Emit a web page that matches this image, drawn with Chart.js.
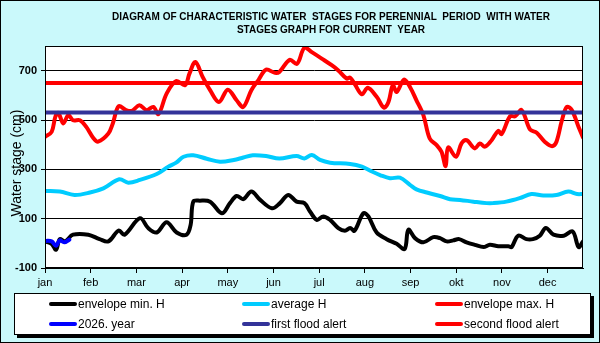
<!DOCTYPE html>
<html><head><meta charset="utf-8">
<script src="https://cdn.jsdelivr.net/npm/chart.js@4/dist/chart.umd.min.js"></script>
<style>
html,body{margin:0;padding:0;background:#caf9fb;}
#wrap{position:relative;width:600px;height:343px;}
canvas{display:block;}
</style></head><body>
<div id="wrap"><canvas id="c" width="600" height="343"></canvas></div>
<script>
const titleLines = ['DIAGRAM OF CHARACTERISTIC WATER  STAGES FOR PERENNIAL  PERIOD  WITH WATER', 'STAGES GRAPH FOR CURRENT  YEAR'];
const yAxisTitle = 'Water stage (cm)';
const monthLabels = ['jan','feb','mar','apr','may','jun','jul','aug','sep','okt','nov','dec'];
const monthTickDays = [0,31,62,93,124,155,186,217,248,279,310,341];
const yTickValues = [-100,100,300,500,700];

const minDays = [0,4.5,7.5,10,13.6,19,29.4,37,43,50,54,64.4,70,75.8,82.5,89.3,96,98.8,100.6,105,112,120,125.5,130,134.6,140,146,154,159.4,165,170.7,176,179.8,184.4,188.8,193.4,199,203.5,207,210,216,219.4,225,231.8,238.6,244,246.5,251,256.7,263.4,268,272.5,277,281,286,291.6,297.5,301.8,307.5,314.3,316.6,321,326.6,331,335.7,339.8,345,352,358,362,365];
const minValues = [8,-2,-26,17,8,35,35,17,8,52,35,102,62,44,85,44,35,75,169,173,169,122,163,192,179,210,176,142,163,196,169,163,129,95,109,95,62,51,62,51,122,109,44,17,-2,-23,55,21,4,25,21,8,12,17,4,-6,-15,-6,-12,-12,-15,31,17,17,31,62,35,31,48,-15,8];

const avgDays = [0,10,20,30.5,39.6,50.4,56.5,64.4,75.8,83.7,89,94,100.6,109.7,118.7,128,134.6,141,150,159,170.7,176,181,186.6,193.4,207,215,221.8,227.3,234,240.8,247.6,252,259,268,274.8,281.5,290.6,299.6,304,313,322,330,338,347,355,361,365];
const avgValues = [212,210,196,206,223,260,246,257,281,311,327,351,357,343,331,338,348,357,354,344,354,344,358,338,327,322,311,291,277,264,266,237,219,206,192,179,176,169,163,163,169,183,200,194,196,210,200,200];

const maxDays = [0,4.5,7,9,12.4,15.8,19,23.7,28,33,36,43,46,50,55,59,64,69,73.5,77,82.5,89,95,98,102,107,112,118,124,130,134.5,140,145,150,156,159,166,171,176,181,188,194.5,199,204.6,207,210,215,219,225,230,233,236,238.6,243.6,247.6,252,256.7,261,265.7,269,271.8,273.5,278.8,282.6,286,291.6,295,298.5,303,307.5,309.8,315.5,319,323.4,329,333.6,339,344,347,350.7,354,357.4,362,365];
const maxValues = [432,452,513,529,486,520,499,499,472,425,412,445,486,556,540,537,560,540,553,524,607,658,641,688,735,674,621,573,623,580,553,621,664,704,691,695,744,728,793,775,748,722,701,668,672,647,604,631,594,550,573,641,614,664,634,580,520,425,398,371,313,389,351,405,418,385,405,392,418,456,443,515,515,540,462,448,412,394,412,499,553,540,472,429];

const currentYearDays = [0,4.5,7.5,10,13,16.5];
const currentYearValues = [10,8,-10,12,4,15];

const firstFloodAlert = 530;
const secondFloodAlert = 650;
const periodStartDay = 0;
const periodEndDay = 365;

const FONT = "'Liberation Sans', Arial, sans-serif";

function pts(xs, ys){ return xs.map((d,i)=>({x:d, y:ys[i]})); }

const datasets = [
  {label:'envelope min. H', data:pts(minDays,minValues), borderColor:'#000000', order:3},
  {label:'average H', data:pts(avgDays,avgValues), borderColor:'#00ccff', order:4},
  {label:'envelope max. H', data:pts(maxDays,maxValues), borderColor:'#ff0000', order:5},
  {label:'2026. year', data:pts(currentYearDays,currentYearValues), borderColor:'#0000ff', order:2},
  {label:'first flood alert', data:pts([periodStartDay,periodEndDay],[firstFloodAlert,firstFloodAlert]), borderColor:'#333399', order:1, tension:0},
  {label:'second flood alert', data:pts([periodStartDay,periodEndDay],[secondFloodAlert,secondFloodAlert]), borderColor:'#ff0000', order:1, tension:0}
].map(d=>Object.assign({borderWidth:4, pointRadius:0, tension:0.35, fill:false, borderCapStyle:'round', borderJoinStyle:'round'}, d));

const decor = {
  id:'decor',
  beforeDraw(chart){
    const {ctx, chartArea:a} = chart;
    ctx.save();
    ctx.fillStyle = '#caf9fb';
    ctx.fillRect(0,0,chart.width,chart.height);
    ctx.fillStyle = '#ffffff';
    ctx.fillRect(a.left,a.top,a.right-a.left,a.bottom-a.top);
    ctx.restore();
  },
  afterDraw(chart){
    const {ctx, chartArea:a} = chart;
    ctx.save();
    // plot border
    ctx.strokeStyle = '#000'; ctx.lineWidth = 1;
    ctx.strokeRect(Math.round(a.left)+0.5, Math.round(a.top)+0.5, Math.round(a.right-a.left)-1, Math.round(a.bottom-a.top)-1);
    // title
    ctx.fillStyle = '#000';
    ctx.textAlign = 'center'; ctx.textBaseline = 'middle';
    ctx.font = 'bold 10px ' + FONT;
    ctx.fillText(titleLines[0], 331, 17, 460);
    ctx.fillText(titleLines[1], 331, 30, 196);
    // y axis title
    ctx.save();
    ctx.translate(17, 163);
    ctx.rotate(-Math.PI/2);
    ctx.font = '14px ' + FONT;
    ctx.fillText(yAxisTitle, 0, 0, 108);
    ctx.restore();
    // legend box
    const bx=14, by=293, bw=577, bh=42;
    ctx.fillStyle = '#000';
    ctx.fillRect(bx+3, by+3, bw, bh);
    ctx.fillStyle = '#fff';
    ctx.fillRect(bx, by, bw, bh);
    ctx.strokeStyle = '#000'; ctx.lineWidth = 1;
    ctx.strokeRect(bx+0.5, by+0.5, bw-1, bh-1);
    const cols = [49, 242, 435], rows = [304, 324];
    ctx.font = '12px ' + FONT;
    ctx.textAlign = 'left'; ctx.textBaseline = 'middle';
    chart.data.datasets.forEach((ds,i)=>{
      const x = cols[i%3], y = rows[Math.floor(i/3)];
      ctx.strokeStyle = ds.borderColor; ctx.lineWidth = 4; ctx.lineCap = 'round';
      ctx.beginPath(); ctx.moveTo(x+2,y); ctx.lineTo(x+26,y); ctx.stroke();
      ctx.fillStyle = '#000';
      ctx.fillText(ds.label, x+29, y+0.5);
    });
    // outer border
    ctx.lineCap = 'butt';
    ctx.strokeStyle = '#000'; ctx.lineWidth = 1;
    ctx.strokeRect(0.5,0.5,chart.width-1,chart.height-1);
    ctx.restore();
  }
};

new Chart(document.getElementById('c'), {
  type:'line',
  data:{ datasets },
  options:{
    responsive:false, animation:false,
    layout:{ padding:{ left:0, top:46, right:17, bottom:0 } },
    plugins:{ legend:{display:false}, title:{display:false}, tooltip:{enabled:false} },
    scales:{
      x:{
        type:'linear', min:periodStartDay, max:periodEndDay,
        afterBuildTicks: s => { s.ticks = monthTickDays.map(v=>({value:v})); },
        afterFit: s => { s.height = 75; },
        grid:{ drawOnChartArea:false, drawTicks:true, tickLength:5, color:'#000', tickColor:'#000' },
        border:{ display:true, color:'#000', width:1 },
        ticks:{ autoSkip:false, maxRotation:0, minRotation:0, color:'#000', padding:3,
          font:{ family:FONT, size:11 }, callback:(v,i)=>monthLabels[i] }
      },
      y:{
        type:'linear', min:-100, max:800,
        afterBuildTicks: s => { s.ticks = yTickValues.map(v=>({value:v})); },
        afterFit: s => { s.width = 45; },
        grid:{ color:'#000', lineWidth:1, drawTicks:true, tickLength:4, tickColor:'#000' },
        border:{ display:true, color:'#000', width:1 },
        ticks:{ color:'#000', padding:4, font:{ family:FONT, size:11, weight:'bold' } }
      }
    }
  },
  plugins:[decor]
});
</script>
</body></html>
